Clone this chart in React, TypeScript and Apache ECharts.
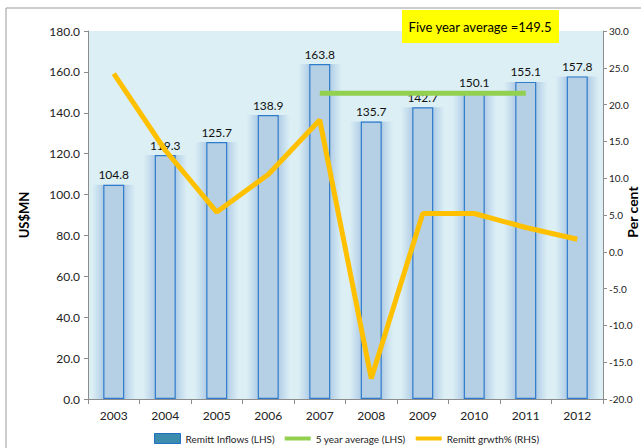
import React, { useEffect, useRef } from "react";
import * as echarts from "echarts";

const years = ["2003", "2004", "2005", "2006", "2007", "2008", "2009", "2010", "2011", "2012"];
const inflows = [104.8, 119.3, 125.7, 138.9, 163.8, 135.7, 142.7, 150.1, 155.1, 157.8];
const fiveYearAvg = [null, null, null, null, 149.5, 149.5, 149.5, 149.5, 149.5, null];
const growth = [24.2, 13.8, 5.4, 10.5, 17.9, -17.2, 5.2, 5.2, 3.3, 1.7];
const seriesNames = ["Remitt Inflows (LHS)", "5 year average (LHS)", "Remitt grwth% (RHS)"];
const note = "Five year average =149.5";
const rightAxisName = "Per cent";

const FONT = "Lato";

export default function App() {
  const ref = useRef<HTMLDivElement>(null);
  useEffect(() => {
    document.body.style.margin = "0";
    const chart = echarts.init(ref.current!, null, { renderer: "svg" });
    chart.setOption({
      animation: false,
      textStyle: { fontFamily: FONT },
      grid: {
        left: 88,
        right: 38,
        top: 31,
        bottom: 49,
        show: true,
        backgroundColor: "#DCEFF5",
        borderWidth: 0,
      },
      graphic: [
        {
          type: "rect",
          shape: { x: 6, y: 8, width: 700, height: 500 },
          style: { fill: "none", stroke: "#9A9A9A", lineWidth: 1 },
          z: -10,
        },
        {
          type: "rect",
          shape: { x: 402, y: 10, width: 157, height: 33 },
          style: { fill: "#FFFF00" },
          z: 10,
        },
        {
          type: "text",
          x: 480,
          y: 27,
          style: {
            text: note,
            fill: "#000",
            font: `13px ${FONT}`,
            align: "center",
            verticalAlign: "middle",
          },
          z: 11,
        },
        {
          type: "text",
          x: 632,
          y: 212,
          rotation: Math.PI / 2,
          style: {
            text: rightAxisName,
            fill: "#000",
            font: `bold 14px ${FONT}`,
            align: "center",
            verticalAlign: "middle",
          },
          z: 11,
        },
      ],
      legend: {
        left: 149,
        top: 428,
        itemWidth: 26,
        itemHeight: 10,
        itemGap: 10,
        textStyle: { fontSize: 10, color: "#222", fontFamily: FONT },
        data: [
          { name: seriesNames[0], icon: "rect", itemStyle: { color: "#3C8DAD", borderColor: "#1F6FC5", borderWidth: 1 } },
          { name: seriesNames[1], icon: "path://M0,0 H26 V4 H0 Z", itemStyle: { color: "#92D050" } },
          { name: seriesNames[2], icon: "path://M0,0 H26 V4 H0 Z", itemStyle: { color: "#FFC000" } },
        ],
      },
      xAxis: [
        {
          type: "category",
          data: years,
          axisLine: { lineStyle: { color: "#8C8C8C" } },
          axisTick: { show: true, length: 5, lineStyle: { color: "#8C8C8C" } },
          axisLabel: { color: "#222", fontSize: 12, margin: 10 },
        },
        {
          type: "category",
          data: years,
          show: false,
        },
      ],
      yAxis: [
        {
          type: "value",
          min: 0,
          max: 180,
          interval: 20,
          name: "US$MN",
          nameLocation: "middle",
          nameGap: 58,
          nameRotate: 90,
          nameTextStyle: { fontWeight: "bold", fontSize: 13, color: "#000" },
          axisLine: { show: true, lineStyle: { color: "#8C8C8C" } },
          axisTick: { show: true, length: 4, lineStyle: { color: "#8C8C8C" } },
          splitLine: { show: false },
          axisLabel: { color: "#222", fontSize: 12, formatter: (v: number) => v.toFixed(1) },
        },
        {
          type: "value",
          min: -20,
          max: 30,
          interval: 5,
          position: "right",
          axisLine: { show: true, lineStyle: { color: "#8C8C8C" } },
          axisTick: { show: true, length: 4, lineStyle: { color: "#8C8C8C" } },
          splitLine: { show: false },
          axisLabel: { color: "#222", fontSize: 10, margin: 6, formatter: (v: number) => v.toFixed(1) },
        },
      ],
      series: [
        {
          type: "bar",
          data: inflows,
          xAxisIndex: 1,
          barWidth: 44,
          silent: true,
          z: 1,
          itemStyle: {
            color: new echarts.graphic.LinearGradient(0, 0, 1, 0, [
              { offset: 0, color: "rgba(170,200,228,0)" },
              { offset: 0.3, color: "rgba(160,192,224,0.85)" },
              { offset: 0.7, color: "rgba(160,192,224,0.85)" },
              { offset: 1, color: "rgba(170,200,228,0)" },
            ]),
          },
        },
        {
          name: seriesNames[0],
          type: "bar",
          data: inflows,
          barWidth: 21,
          z: 2,
          itemStyle: {
            color: "#B5CFE4",
            borderColor: "#2F7BCB",
            borderWidth: 1.2,
          },
          label: {
            show: true,
            position: "top",
            color: "#111",
            fontSize: 12,
            distance: 4,
            formatter: (p: any) => p.value.toFixed(1),
          },
        },
        {
          name: seriesNames[1],
          type: "line",
          data: fiveYearAvg,
          yAxisIndex: 0,
          symbol: "none",
          z: 3,
          lineStyle: { color: "#92D050", width: 5 },
          itemStyle: { color: "#92D050" },
        },
        {
          name: seriesNames[2],
          type: "line",
          data: growth,
          yAxisIndex: 1,
          symbol: "none",
          z: 4,
          lineStyle: { color: "#FFC000", width: 5 },
          itemStyle: { color: "#FFC000" },
        },
      ],
    });
    return () => chart.dispose();
  }, []);
  return <div ref={ref} style={{ width: 641, height: 448 }} />;
}
